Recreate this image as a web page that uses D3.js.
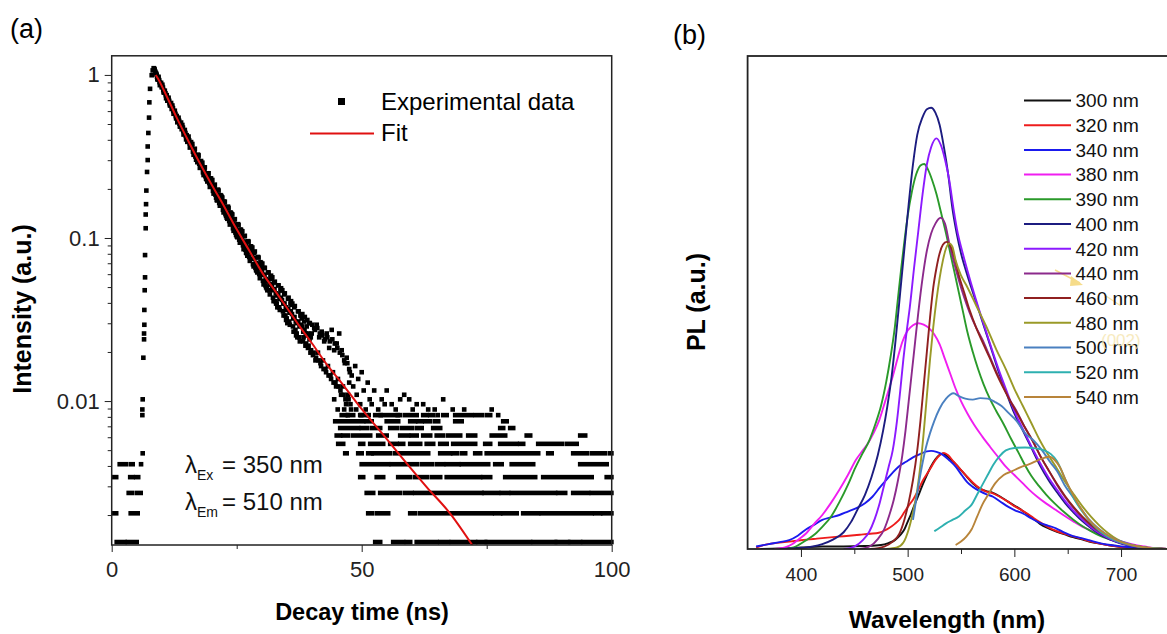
<!DOCTYPE html>
<html>
<head>
<meta charset="utf-8">
<script src="https://cdn.jsdelivr.net/npm/d3@7"></script>
<style>
  body { margin: 0; background: #fff; }
  svg { display: block; font-family: "Liberation Sans", Arial, sans-serif; }
</style>
</head>
<body>
<div id="chart"></div>
<script>
// ---------- panel (a): decay curve ----------
const peakCounts = 1464; // counts that correspond to intensity 1

// rising edge [time ns, counts]
const riseData = [[5.87,6],[6.2,7],[6.13,12],[6.13,13],[6.2,15],[6.33,27],[6.47,35],[6.47,38],[6.53,43],[6.53,53],
  [6.6,70],[6.67,84],[6.67,115],[6.8,168],[6.8,204],[6.87,236],[6.93,286],[7.07,372],[7.2,440],[7.2,533],
  [7.33,645],[7.47,801],[7.53,994],[7.67,1203],[8.0,1458],[8.2,1560],[8.4,1610],[8.5,1600],[8.6,1580]];

// dense decay part: three interleaved sets of channels, 0.25 ns apart each
const cloudStep = 0.25;
const cloudStart = 8.75;
const cloudCounts = [1530,
  1470,1370,1360,1280, 1230,1225,1140,1130, 1100,1020,1015,950, 905,915,850,845,
  820,760,765,705, 680,695,640,645, 625,575,580,530, 550,495,510,462,
  445,475,418,430, 420,370,395,350, 335,365,318,340, 330,285,305,270,
  250,290,240,268, 262,218,245,205, 195,228,186,210, 205,168,190,158,
  150,178,143,165, 160,132,150,124, 118,140,112,130, 127,101,118,96,
  92,112,88,104, 100,80,96,75, 72,90,70,84, 82,63,78,60,
  58,75,55,70, 70,52,66,49, 47,62,45,58, 57,42,55,40,
  38,52,36,49, 47,34,45,32, 42,31,44,29, 38,28,41,26,
  43,29,36,25, 39,26,34,23, 38,24,31,21, 40,22,30,19,
  33,20,38,17, 30,18,26,15, 27,16,23,14];
const cloudStart2 = 8.875;
const cloudCounts2 = [1500,
  1378,1425,1267,1310, 1275,1146,1172,1053, 1017,1061,954,985, 951,846,883,793,
  750,800,707,747, 722,631,673,589, 569,613,525,567, 552,474,516,442,
  427,470,394,434, 424,356,397,338, 325,365,301,339, 332,274,311,259,
  249,286,231,266, 259,210,244,200, 192,224,177,208, 204,162,191,153,
  148,176,137,164, 161,125,151,119, 114,139,106,130, 128,98,121,93,
  90,111,83,103, 102,76,96,73, 70,90,66,86, 84,60,79,58,
  55,75,53,72, 70,49,67,46, 44,63,43,60, 58,39,56,37,
  36,52,34,49, 50,36,48,33, 46,32,44,30, 43,29,40,27,
  41,26,38,24, 37,23,35,22, 36,21,34,20, 35,19,33,18,
  31,18,29,16, 28,16,25,14, 25,15,22,13];
const cloudStart3 = 9.0625;
const cloudCounts3 = [
  1425,1398,1322,1297, 1252,1183,1162,1099, 1059,1041,982,966, 931,880,866,818,
  788,777,735,725, 700,663,654,619, 598,590,557,550, 531,502,497,469,
  452,448,423,418, 405,381,379,357, 346,345,326,324, 314,296,295,278,
  269,268,252,251, 243,230,228,215, 209,208,196,195, 189,178,177,167,
  163,162,153,152, 148,139,139,131, 127,127,120,120, 117,109,110,103,
  100,101,94,95, 92,87,87,82, 80,80,76,76, 74,70,71,67,
  65,66,62,63, 61,58,58,55, 53,54,51,52, 50,47,48,45,
  44,45,42,43, 42,39,40,38, 37,38,35,36];

// scattered points in the tail [time ns, counts]
const sparseDots = [[48,21],[48.3,18],[48.7,24],[49,16],[49.3,20],[49.7,14],[50,22],[50.4,17],[50.8,13],
  [51.2,19],[51.6,15],[52,14],[52.5,17],[53.3,13],[54,15],[55,17],[56,14],[57.7,15],[58.5,16],
  [59.5,15],[61,14],[62.3,14],[63.3,13],[66.3,15],[76,13],[77.3,12],
  [44.5,15],[45.2,13],[46.5,13],[47.2,12],[47.5,19],[48.9,13],[49.9,12],[51.4,12],[53.8,12],[54.6,14],
  [56.8,13],[57.2,12],[60.2,13],[64.6,13],[65.2,12],[68.2,13],[70.5,13]];

// runs of consecutive channels at one count level [counts, from ns, to ns]
const tailRuns = [
  [2,1.0,2.6],[2,3.2,5.0],[2,52.7,53.7],[2,56.3,58.3],[2,59.0,59.7],[2,61.0,65.0],[2,65.7,67.3],[2,68.0,72.7],
  [2,73.3,74.7],[2,75.0,83.7],[2,84.3,88.7],[2,89.0,91.3],[2,91.7,93.7],[2,94.3,100],
  [3,0.5,0.9],[3,3.8,5.2],[3,51.3,52.0],[3,53.0,55.3],[3,59.7,60.7],[3,61.7,76.0],[3,76.7,77.7],[3,78.3,81.0],
  [3,82.3,85.3],[3,86.0,96.0],[3,96.7,97.7],[3,98.3,100],
  [4,3.4,4.0],[4,5.0,5.8],[4,51.0,52.3],[4,53.7,57.7],[4,58.7,60.0],[4,60.7,74.0],[4,74.5,77.3],[4,78.0,79.3],
  [4,80.0,88.7],[4,89.3,90.7],[4,92.3,95.3],[4,96.0,100],
  [5,0.5,0.9],[5,3.7,4.2],[5,4.9,5.3],[5,49.7,50.3],[5,53.0,54.3],[5,57.3,59.7],[5,60.7,63.0],[5,64.0,65.7],
  [5,67.0,73.7],[5,74.3,75.7],[5,78.7,84.7],[5,86.3,96.0],[5,99.0,100],
  [6,1.6,2.8],[6,3.8,4.2],[6,50.0,55.3],[6,56.0,61.0],[6,62.0,64.0],[6,65.0,66.3],[6,67.0,69.4],[6,70.0,75.3],
  [6,76.7,78.0],[6,80.0,84.3],[6,93.7,99.0],
  [7,46.7,47.0],[7,49.3,50.0],[7,51.3,52.0],[7,52.3,55.7],[7,56.7,63.3],[7,65.7,67.7],[7,68.3,69.0],[7,70.0,70.7],
  [7,72.7,73.7],[7,75.0,85.3],[7,87.3,88.0],[7,92.3,95.0],[7,96.0,98.7],[7,99.7,100],
  [8,45.3,46.3],[8,49.7,50.3],[8,51.7,54.3],[8,55.7,57.0],[8,57.7,58.3],[8,59.7,61.7],[8,63.0,64.3],[8,65.7,67.0],
  [8,68.3,72.7],[8,74.7,75.7],[8,77.7,81.0],[8,81.7,82.3],[8,85.3,90.0],[8,91.0,93.0],
  [9,45.0,45.7],[9,46.3,47.3],[9,48.3,51.7],[9,53.3,55.0],[9,57.7,59.3],[9,60.0,61.0],[9,62.3,63.7],[9,65.0,66.3],
  [9,67.3,69.7],[9,71.3,72.7],[9,76.0,78.7],[9,83.0,83.7],[9,93.7,94.7],
  [10,45.7,49.3],[10,50.0,51.0],[10,52.0,53.7],[10,55.7,57.0],[10,58.0,60.0],[10,61.0,62.0],[10,64.3,65.7],
  [10,77.7,78.3],[10,79.7,80.3],
  [11,44.7,50.3],[11,51.0,52.0],[11,55.0,57.3],[11,59.7,60.7],[11,61.3,62.0],[11,62.7,63.7],[11,64.7,65.3],
  [11,68.7,70.0],[11,78.3,79.0],
  [12,46.0,46.7],[12,47.3,48.3],[12,49.7,51.0],[12,52.7,57.7],[12,58.7,61.0],[12,62.3,63.0],[12,63.7,64.3],
  [12,66.3,67.0],[12,68.7,72.0],[12,72.8,74.0],[12,75.0,75.7]];

// fitted curve [time ns, intensity]
const fitData = [[8.8,1.0],[9.3,0.944],[11,0.74],[13,0.547],[15,0.412],[17.66,0.286],[20,0.212],[22.5,0.156],
  [25,0.113],[27.5,0.0838],[30,0.062],[33,0.0459],[35,0.0375],[37.66,0.0285],[40,0.0227],[43,0.0168],
  [46,0.0129],[49.66,0.0092],[54,0.00638],[58,0.00452],[63,0.00297],[67.7,0.00204],[72.1,0.00131]];

const timeTicks = [0, 50, 100];
const timeMinor = [25, 75];
const intTicks = [1, 0.1, 0.01];
const intLabels = ["1", "0.1", "0.01"];

// ---------- panel (b): PL spectra [wavelength nm, PL a.u.] ----------
const plNames = ["300 nm","320 nm","340 nm","380 nm","390 nm","400 nm","420 nm","440 nm","460 nm","480 nm","500 nm","520 nm","540 nm"];
const plColors = ["#111111","#ee1c1c","#1a1aee","#f01ef0","#2a9a2a","#1c1c80","#8c1aff","#8c2a8c","#902020","#9a9a28","#4a80c0","#2eb0b0","#b8843a"];

const pl300 = [[362,0],[380,0.1],[400,0.3],[420,0.5],[440,0.5],[460,0.6],[475,0.8],[482,1.2],[488,1.8],[493,2.8],[497,4],
  [500,5.5],[503,7],[506,8.7],[510,10.8],[514,13],[518,15],[522,16.8],[526,18.2],[530,19.1],[533,19.4],[537,18.8],
  [541,18],[545,17.2],[550,16],[555,14.8],[561,13.3],[567,12.3],[573,11.8],[580,11.4],[587,10.6],[594,9.6],[600,8.8],
  [604,8.3],[610,7.4],[617,6.3],[624,5.1],[632,4.2],[640,3.5],[648,2.9],[655,2.4],[664,1.9],[672,1.4],[680,1.1],
  [690,0.7],[700,0.4],[712,0.2],[725,0.1],[740,0]];
const pl320 = [[358,0.3],[365,0.8],[372,1.1],[380,1.3],[389,1.5],[397,1.7],[405,1.9],[415,2.1],[425,2.3],[435,2.5],
  [445,2.7],[455,2.9],[465,3.1],[473,3.3],[478,3.7],[483,4.3],[488,5.1],[492,5.9],[497,7.5],[501,8.8],[505,10],
  [510,12],[514,13.8],[518,15.2],[522,16.6],[526,18],[530,19],[534,19.5],[538,19],[542,18],[546,17],[551,15.8],
  [556,14.6],[561,13.5],[567,12.4],[573,11.7],[580,11.3],[587,10.5],[594,9.6],[600,8.7],[606,8],[612,7.2],[618,6.3],
  [625,5.3],[632,4.4],[640,3.6],[648,3],[656,2.5],[664,2],[672,1.5],[680,1.1],[690,0.7],[700,0.4],[712,0.2],[725,0.1],[740,0]];
const pl340 = [[358,0.5],[370,1],[380,1.4],[389,1.8],[397,2.7],[405,4],[413,5],[420,5.9],[428,6.4],[436,6.9],[444,7.6],
  [452,8.3],[460,9.3],[467,10.6],[474,12.5],[480,14],[486,15.5],[492,16.8],[498.5,17.7],[505,18.6],[512,19.3],[518,19.8],
  [522,19.9],[527,19.7],[533,19.1],[539,18],[545,16.7],[551,14.9],[556,13.5],[561,12.6],[568,11.7],[574,11.1],[580,10.6],
  [587,9.6],[594,8.6],[601,7.8],[608,7.2],[616,6.2],[624,5.3],[632,4.7],[639,4.2],[647,3.3],[655,2.6],[663,2.2],[670,1.8],
  [680,1.2],[690,0.8],[701,0.5],[715,0.2],[733,0]];
const pl380 = [[375,0],[385,0.3],[392,1],[398,2],[405,3.2],[412,5],[420,6.9],[428,9.3],[436,12],[444,15],[451.6,18.1],
  [458,20],[463,21.5],[468,23.5],[473.5,26.2],[479,30],[486,35],[491,39],[495,42],[500,44.3],[505,45.4],[510,45.8],
  [515,45.5],[520,44.8],[525,43.5],[530,41.5],[535,38.5],[540,35.5],[545,32.5],[550,30],[556,27.5],[562,25.3],[570,22.8],
  [577,20.8],[585,18.6],[592,16.7],[600,15],[608,13.3],[614,12],[622,10.5],[630,9.2],[639,7.9],[648,6.6],[656,5.5],
  [664,4.5],[670,3.9],[680,3],[690,2.2],[701,1.5],[712,0.9],[722,0.5],[733,0.1],[745,0]];
const pl390 = [[385,0],[395,0.5],[405,1.8],[413,3],[420,4.5],[428,6.5],[436,9.5],[444,13],[451,16.5],[458,19.5],[464,22],
  [470,25.5],[475,29],[480,34],[484,39],[488,45],[491,51],[494,57],[497,62.5],[500,67.5],[504,72.5],[508,76],[512,77.8],
  [515.5,78.1],[519,77],[523,74.8],[527,72],[531,68.5],[536,64],[540,60],[544,56],[548,52],[552,48],[556,44],[561,40],
  [566,36.5],[571,33.5],[577,30.5],[583,28],[590,25.3],[597,22.3],[604,19.5],[610,17],[616,14.8],[623,12.8],[630,11],
  [638,9.2],[646,7.6],[655,6],[664,4.6],[672,3.6],[680,2.7],[690,1.9],[700,1.2],[712,0.6],[725,0.2],[740,0]];
const pl400 = [[380,0],[400,0.2],[420,1],[430,1.9],[440,3.4],[447,5.5],[453,8],[460,11],[466,14.5],[472,19],[477,24],
  [481,29],[485,35],[489,43],[493,52],[497,61],[501,70],[505,78],[509,84],[514,87.6],[518,89.2],[522,89.5],[526,88.5],
  [530,86],[534,81.5],[538,76],[542,69],[546,64],[550,60],[556,55.5],[562,51.5],[568,47.5],[574,43.5],[580,39.5],
  [586,35.5],[592,32],[600,27.5],[608,24],[616,20.5],[624,17],[632,14],[640,11.5],[648,9.2],[656,7.3],[664,5.6],
  [672,4.2],[680,3],[690,1.9],[700,1.1],[712,0.5],[725,0.2],[745,0]];
const pl420 = [[440,0],[450,0.5],[458,1.8],[464,3.5],[469,6],[474,9.5],[478,13],[482,16.5],[486,20],[490,26],[493,32],
  [496,38.5],[499,44],[502,49],[506,57],[510,64.5],[514,72],[518,78],[522,81.5],[527,83.3],[531,82],[535,79],[539,74.8],
  [543,69],[547,64],[551,60.5],[556,56.5],[562,52],[568,47.8],[574,43.8],[580,39.8],[586,36],[592,32.5],[600,28],
  [608,24.3],[616,20.8],[624,17.5],[632,14.5],[640,12],[648,9.6],[656,7.6],[664,5.9],[672,4.4],[680,3.2],[690,2],
  [700,1.2],[712,0.6],[725,0.2],[745,0]];
const pl440 = [[455,0],[465,0.6],[472,2],[478,4],[483,7],[487,10],[491,14],[495,19],[498,24],[501,30],[504,36],[507,42],
  [510,48],[514,55],[518,60.5],[522,64],[526,66],[531,67.2],[535,66],[539,62],[543,58.5],[548,54.5],[553,51],[558,48],
  [564,45],[570,42.5],[577,39],[583,36],[589,33.3],[595,30.5],[602,28],[609,25],[617,22],[624,19],[632,16],[640,13],
  [648,10.4],[656,8.2],[664,6.3],[672,4.7],[680,3.4],[690,2.2],[700,1.3],[712,0.6],[725,0.2],[745,0]];
const pl460 = [[465,0],[478,0.5],[486,1.5],[492,3],[497,6],[501,9.5],[505,14],[509,20],[512,26],[515,33],[518,40],
  [521,47],[524,53],[527,57],[530,60],[533,61.7],[536.5,62.3],[540,61.5],[544,59],[548,55.5],[553,52],[558,48.5],
  [564,45],[570,42],[577,38.7],[583,35.7],[589,33],[595,30.5],[602,27.8],[609,25],[617,22],[624,19],[632,16],[640,13.2],
  [648,10.6],[656,8.4],[664,6.5],[672,4.9],[680,3.6],[690,2.3],[700,1.4],[712,0.7],[725,0.2],[745,0]];
const pl480 = [[480,0],[490,0.3],[496,1.3],[501,4],[505,7.5],[509,12],[512,17],[515,23.5],[518,31],[521,38.5],[524,45],
  [527,50.5],[530,55],[533,58.5],[536,61],[539,62],[542,61.3],[545,58.5],[550,55.5],[555,53.5],[564,49.5],[574,45],
  [583,40.5],[592,36.5],[600,32.5],[608,29],[616,25.5],[624,22],[632,19],[640,16.3],[648,13.5],[656,11],[664,8.6],
  [672,6.5],[680,4.7],[688,3.2],[696,2],[704,1.2],[716,0.5],[730,0.2],[745,0]];
const pl500 = [[505,5.9],[508,10],[511,14],[514,17.5],[517,20.5],[521,23.5],[525,26],[530,28.5],[536,30.5],[543,31.6],
  [548,31],[554,30.5],[561,30.3],[568,30.6],[575,30.5],[582,29.8],[588,29],[595,27.5],[602,26],[610,23.5],[618,22],
  [626,20],[634,17.5],[640,15.8],[647,13],[655,10.5],[663,8],[670,6],[678,4.3],[686,3],[694,2],[702,1.4],[712,0.7],
  [724,0.2],[740,0]];
const pl520 = [[525,3.6],[530,4.3],[536,5.2],[542,5.9],[548,6.6],[554,7.8],[560,9],[565,11],[570,13],[575,15],[580,17],
  [586,18.8],[592,20],[600,20.5],[610,20.6],[620,20.4],[628,20],[634,19.3],[640,17.8],[645,15.5],[650,13],[656,10.2],
  [663,7.8],[670,5.8],[678,4],[686,2.7],[695,1.7],[705,1],[717,0.5],[730,0.1],[740,0]];
const pl540 = [[545,0.8],[550,1.5],[555,2.5],[560,4],[565,6.5],[570,9],[576,11.2],[582,13.3],[590,15],[598,15.8],
  [606,16.6],[614,17.2],[622,18],[628,18.5],[633,18.7],[638,18],[643,16.5],[648,14],[653,11.8],[658,9.8],[664,7.7],
  [670,5.9],[678,4.2],[686,3],[695,1.9],[705,1.1],[717,0.5],[730,0.1],[740,0]];
const plSeries = [pl300, pl320, pl340, pl380, pl390, pl400, pl420, pl440, pl460, pl480, pl500, pl520, pl540];

const wlTicks = [400, 500, 600, 700];
const wlMinor = [450, 550, 650];

// ---------- drawing ----------
const width = 1167, height = 634;
const font = "Liberation Sans, Arial, sans-serif";
const dot = 4.6;

const svg = d3.select("#chart")
  .append("svg")
  .attr("width", width)
  .attr("height", height);

const defs = svg.append("defs");
defs.append("clipPath").attr("id", "clipA")
  .append("rect").attr("x", 111.7).attr("y", 55.8).attr("width", 502).attr("height", 489.2);
defs.append("clipPath").attr("id", "clipB")
  .append("rect").attr("x", 747.6).attr("y", 56).attr("width", 430).attr("height", 493);

// ----- panel (a)
const xa = d3.scaleLinear([0, 100], [111.7, 611.7]);
const ya = d3.scaleLog([0.00131, 1.31], [545, 55.8]);
const toI = c => c / peakCounts;

svg.append("text").attr("x", 10).attr("y", 38).attr("font-size", 27).text("(a)");

svg.append("g")
  .attr("transform", "translate(0,545)")
  .call(d3.axisBottom(xa).tickValues(timeTicks).tickSize(7).tickPadding(9).tickFormat(d3.format("d")))
  .call(g => g.select(".domain").remove())
  .attr("font-size", 22).attr("font-family", font).attr("color", "#222");

svg.append("g")
  .attr("transform", "translate(0,545)")
  .call(d3.axisBottom(xa).tickValues(timeMinor).tickSize(4).tickFormat(""))
  .call(g => g.select(".domain").remove())
  .attr("color", "#222");

svg.append("g")
  .attr("transform", "translate(111.7,0)")
  .call(d3.axisLeft(ya).tickValues(intTicks).tickSize(7).tickPadding(5).tickFormat((d, i) => intLabels[i]))
  .call(g => g.select(".domain").remove())
  .attr("font-size", 22).attr("font-family", font).attr("color", "#222");

svg.append("g")
  .attr("transform", "translate(111.7,0)")
  .call(d3.axisLeft(ya).tickValues(ya.ticks().filter(d => !intTicks.includes(d))).tickSize(4).tickFormat(""))
  .call(g => g.select(".domain").remove())
  .attr("color", "#222");

const plotA = svg.append("g").attr("clip-path", "url(#clipA)");

const dots = riseData
  .concat(cloudCounts.map((c, i) => [cloudStart + i * cloudStep, c]))
  .concat(cloudCounts2.map((c, i) => [cloudStart2 + i * cloudStep, c]))
  .concat(cloudCounts3.map((c, i) => [cloudStart3 + i * cloudStep, c]))
  .concat(sparseDots);

plotA.append("g")
  .attr("fill", "#000")
  .selectAll("rect")
  .data(dots)
  .join("rect")
  .attr("x", d => xa(d[0]) - dot / 2)
  .attr("y", d => ya(toI(d[1])) - dot / 2)
  .attr("width", dot)
  .attr("height", dot);

plotA.append("g")
  .attr("fill", "#000")
  .selectAll("rect")
  .data(tailRuns)
  .join("rect")
  .attr("x", d => xa(d[1]) - dot / 2)
  .attr("y", d => ya(toI(d[0])) - dot / 2)
  .attr("width", d => xa(d[2]) - xa(d[1]) + dot)
  .attr("height", dot);

plotA.append("path")
  .datum(fitData)
  .attr("fill", "none")
  .attr("stroke", "#e01010")
  .attr("stroke-width", 2)
  .attr("d", d3.line().x(d => xa(d[0])).y(d => ya(d[1])).curve(d3.curveMonotoneX));

svg.append("rect")
  .attr("x", 111.7).attr("y", 55.8).attr("width", 500).attr("height", 489.2)
  .attr("fill", "none").attr("stroke", "#222").attr("stroke-width", 1.5);

// legend (a)
svg.append("rect").attr("x", 338).attr("y", 98).attr("width", 7).attr("height", 7).attr("fill", "#000");
svg.append("text").attr("x", 381).attr("y", 109.5).attr("font-size", 24).text("Experimental data");
svg.append("line").attr("x1", 310).attr("x2", 374).attr("y1", 133.4).attr("y2", 133.4)
  .attr("stroke", "#e01010").attr("stroke-width", 2);
svg.append("text").attr("x", 381).attr("y", 141).attr("font-size", 24).text("Fit");

// excitation / emission labels
const lam = svg.append("g").attr("font-size", 24).attr("fill", "#111");
[["Ex", "= 350 nm", 473], ["Em", "= 510 nm", 509.5]].forEach(([sub, rest, yb]) => {
  const t = lam.append("text").attr("x", 185).attr("y", yb);
  t.append("tspan").text("λ");
  t.append("tspan").attr("font-size", 14).attr("dy", 7).text(sub);
  t.append("tspan").attr("x", 222).attr("dy", -7).text(rest);
});

svg.append("text")
  .attr("x", 362).attr("y", 620).attr("text-anchor", "middle")
  .attr("font-size", 23.5).attr("font-weight", "bold").text("Decay time (ns)");
svg.append("text")
  .attr("transform", "translate(31,309) rotate(-90)").attr("text-anchor", "middle")
  .attr("font-size", 25).attr("font-weight", "bold").text("Intensity (a.u.)");

// ----- panel (b)
const xb = d3.scaleLinear([350, 750], [747.6, 1174.4]);
const yb = d3.scaleLinear([0, 100], [549, 56]);

svg.append("text").attr("x", 673).attr("y", 44).attr("font-size", 27).text("(b)");

svg.append("g")
  .attr("transform", "translate(0,549)")
  .call(d3.axisBottom(xb).tickValues(wlTicks).tickSize(8).tickPadding(11).tickFormat(d3.format("d")))
  .call(g => g.select(".domain").remove())
  .attr("font-size", 19).attr("font-family", font).attr("color", "#222");

svg.append("g")
  .attr("transform", "translate(0,549)")
  .call(d3.axisBottom(xb).tickValues(wlMinor).tickSize(5).tickFormat(""))
  .call(g => g.select(".domain").remove())
  .attr("color", "#222");

const plotB = svg.append("g").attr("clip-path", "url(#clipB)");
const plLine = d3.line().x(d => xb(d[0])).y(d => yb(d[1])).curve(d3.curveMonotoneX);

plotB.selectAll("path")
  .data(plSeries)
  .join("path")
  .attr("fill", "none")
  .attr("stroke", (d, i) => plColors[i])
  .attr("stroke-width", 1.9)
  .attr("d", plLine);

svg.append("rect")
  .attr("x", 747.6).attr("y", 56).attr("width", 430).attr("height", 493)
  .attr("fill", "none").attr("stroke", "#222").attr("stroke-width", 1.8);

// faint marks near the legend
svg.append("line").attr("x1", 1055).attr("y1", 270).attr("x2", 1080).attr("y2", 283)
  .attr("stroke", "#f6dc8a").attr("stroke-width", 1.5);
svg.append("path").attr("d", "M1071,276 L1083,285 L1070,286 Z").attr("fill", "#f6dc8a");
svg.append("line").attr("x1", 1106).attr("y1", 296).attr("x2", 1121).attr("y2", 306)
  .attr("stroke", "#f6e3a8").attr("stroke-width", 1.2);

const legB = svg.append("g")
  .selectAll("g")
  .data(plNames)
  .join("g")
  .attr("transform", (d, i) => `translate(0,${100.5 + i * 24.7})`);
legB.append("line")
  .attr("x1", 1024).attr("x2", 1071)
  .attr("stroke", (d, i) => plColors[i]).attr("stroke-width", 2);
legB.append("text")
  .attr("x", 1075.5).attr("dy", "0.36em")
  .attr("font-size", 19).attr("fill", "#111")
  .text(d => d);

// faint label behind the legend, as in the source image
svg.append("text").attr("x", 1101).attr("y", 346).attr("font-size", 17).attr("fill", "#f6e6b0")
  .attr("opacity", 0.8).text("(002)");

svg.append("text")
  .attr("x", 947).attr("y", 628).attr("text-anchor", "middle")
  .attr("font-size", 24.5).attr("font-weight", "bold").text("Wavelength (nm)");
svg.append("text")
  .attr("transform", "translate(705,302) rotate(-90)").attr("text-anchor", "middle")
  .attr("font-size", 25).attr("font-weight", "bold").text("PL (a.u.)");
</script>
</body>
</html>
